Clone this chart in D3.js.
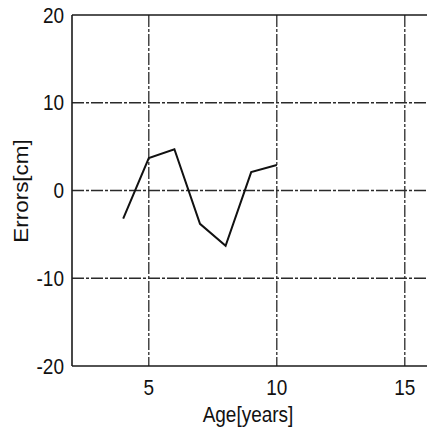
<!DOCTYPE html>
<html>
<head>
<meta charset="utf-8">
<script src="https://cdn.jsdelivr.net/npm/d3@7"></script>
<style>
  body { margin: 0; background: #fff; }
  text { font-family: "Liberation Sans", Arial, sans-serif; fill: #111; }
</style>
</head>
<body>
<svg width="427" height="431"></svg>
<script>
// data
var ages = [4, 5, 6, 7, 8, 9, 10];
var errors = [-3.2, 3.7, 4.7, -3.8, -6.3, 2.1, 2.9];
var xTicks = [5, 10, 15];
var yTicks = [-20, -10, 0, 10, 20];

var svg = d3.select("svg"),
  width = +svg.attr("width"),
  height = +svg.attr("height");

// plot area (right side is cut off like the scan)
var plotLeft = 72, plotTop = 15, plotBottom = 366;
var x = d3.scaleLinear().domain([2, 16]).range([plotLeft, plotLeft + 14 * 25.6]);
var y = d3.scaleLinear().domain([-20, 20]).range([plotBottom, plotTop]);

// grid lines, dash-dot
var grid = svg.append("g")
  .attr("stroke", "#2a2a2a")
  .attr("stroke-width", 1.3)
  .attr("stroke-dasharray", "12,2,3,2");

grid.selectAll("line.gx")
  .data(xTicks)
  .enter().append("line")
  .attr("class", "gx")
  .attr("x1", function (d) { return x(d); })
  .attr("x2", function (d) { return x(d); })
  .attr("y1", y(20))
  .attr("y2", y(-20));

grid.selectAll("line.gy")
  .data(yTicks.filter(function (d) { return d > -20 && d < 20; }))
  .enter().append("line")
  .attr("class", "gy")
  .attr("x1", x(2))
  .attr("x2", width)
  .attr("y1", function (d) { return y(d); })
  .attr("y2", function (d) { return y(d); });

// frame: left, top, bottom
var frame = svg.append("g").attr("stroke", "#1a1a1a").attr("stroke-width", 1.6);
frame.append("line").attr("x1", x(2)).attr("x2", x(2)).attr("y1", y(20)).attr("y2", y(-20));
frame.append("line").attr("x1", x(2)).attr("x2", width).attr("y1", y(20)).attr("y2", y(20));
frame.append("line").attr("x1", x(2)).attr("x2", width).attr("y1", y(-20)).attr("y2", y(-20));

// the error line
var line = d3.line()
  .x(function (d, i) { return x(ages[i]); })
  .y(function (d) { return y(d); });

svg.append("path")
  .datum(errors)
  .attr("d", line)
  .attr("fill", "none")
  .attr("stroke", "#111")
  .attr("stroke-width", 2)
  .attr("stroke-linejoin", "miter");

// tick labels (scan is a bit stretched vertically)
var sy = 1.12;
svg.selectAll("g.xt")
  .data(xTicks)
  .enter().append("g")
  .attr("class", "xt")
  .attr("transform", function (d) { return "translate(" + x(d) + ",395) scale(1," + sy + ")"; })
  .append("text")
  .attr("text-anchor", "middle")
  .style("font-size", "19px")
  .text(function (d) { return d; });

svg.selectAll("g.yt")
  .data(yTicks)
  .enter().append("g")
  .attr("class", "yt")
  .attr("transform", function (d) { return "translate(64," + (y(d) + 7.5) + ") scale(1," + sy + ")"; })
  .append("text")
  .attr("text-anchor", "end")
  .style("font-size", "19px")
  .text(function (d) { return d; });

// axis titles
svg.append("g")
  .attr("transform", "translate(248,422) scale(1," + sy + ")")
  .append("text")
  .attr("text-anchor", "middle")
  .style("font-size", "19px")
  .text("Age[years]");

svg.append("g")
  .attr("transform", "translate(28,191) rotate(-90) scale(1.18,1.08)")
  .append("text")
  .attr("text-anchor", "middle")
  .style("font-size", "19px")
  .text("Errors[cm]");
</script>
</body>
</html>
